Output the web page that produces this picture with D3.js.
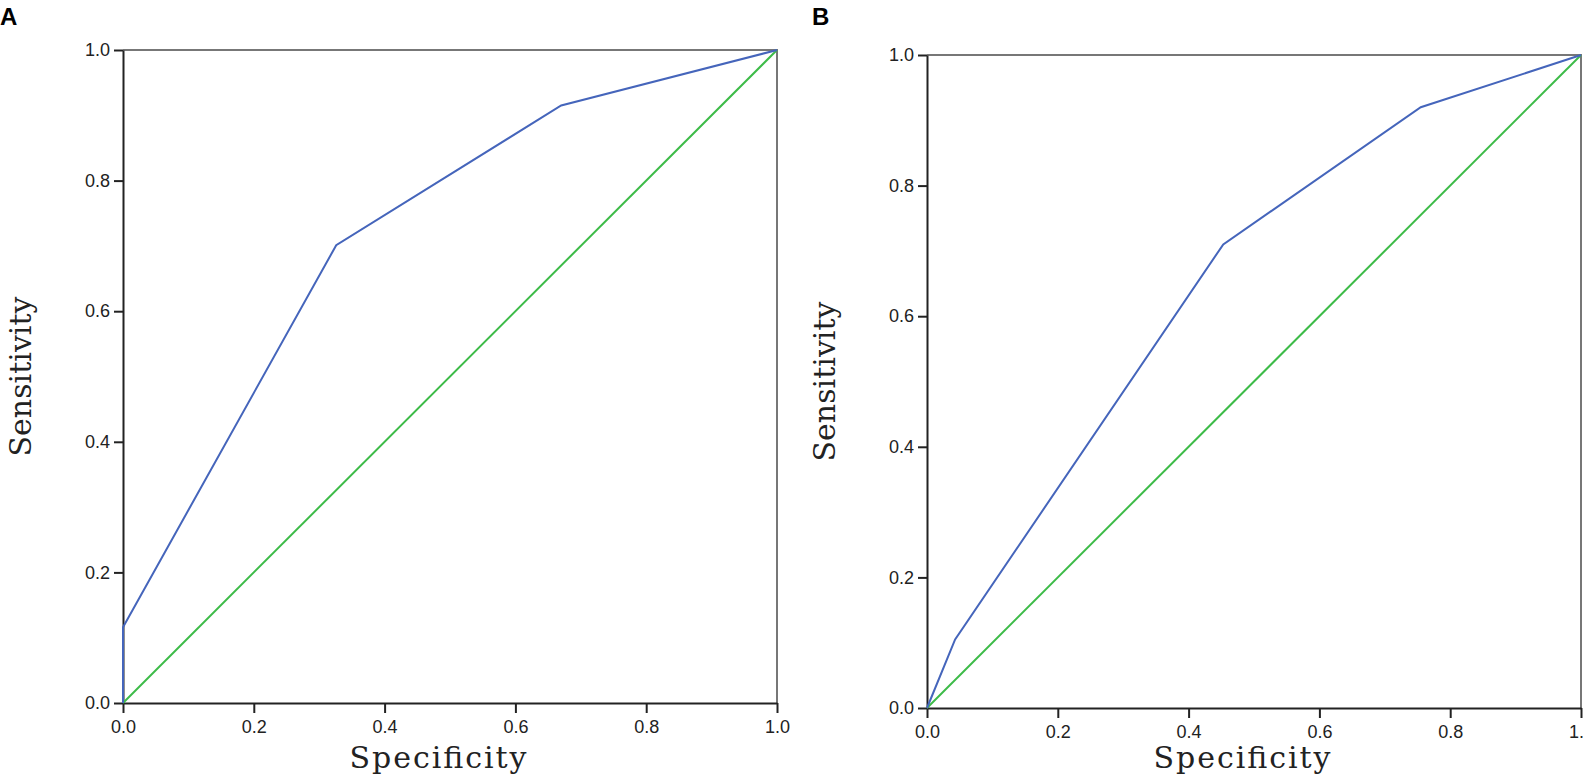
<!DOCTYPE html>
<html lang='en'>
<head>
	<meta charset='UTF-8'>
	<title>ROC</title>
	<style>
		body { margin: 0; background: #fff; }
	</style>
</head>
<body>

<svg></svg>

<script src='https://d3js.org/d3.v7.min.js'></script>
<script>
// ROC curves, two panels
const ticks = [0, 0.2, 0.4, 0.6, 0.8, 1.0]

const specA = [0, 0, 0.326, 0.67, 1]
const sensA = [0, 0.116, 0.701, 0.915, 1]

const specB = [0, 0.043, 0.453, 0.755, 1]
const sensB = [0, 0.105, 0.71, 0.92, 1]

const refLine = [0, 1]

const panels = [
    { label: 'A', spec: specA, sens: sensA, left: 123, top: 50, lx: 0, ly: 25 },
    { label: 'B', spec: specB, sens: sensB, left: 927, top: 55, lx: 812, ly: 25 }
]

const width = 1584
const height = 781
const size = 654

const svg = d3.select('svg')
    .attr('width', width)
    .attr('height', height)

panels.forEach(p => {
    const x = d3.scaleLinear().domain([0, 1]).range([p.left, p.left + size])
    const y = d3.scaleLinear().domain([0, 1]).range([p.top + size - 1, p.top])

    // panel letter
    svg.append('text')
        .attr('x', p.lx).attr('y', p.ly)
        .attr('font-family', 'Liberation Sans, Arial, sans-serif')
        .attr('font-weight', 'bold')
        .attr('font-size', 24)
        .text(p.label)

    // top and right frame, gray
    svg.append('path')
        .attr('d', `M${x(0)},${y(1)}H${x(1)}V${y(0)}`)
        .attr('fill', 'none')
        .attr('stroke', '#777')
        .attr('stroke-width', 2)

    const xAxis = svg.append('g')
        .attr('transform', `translate(0,${y(0)})`)
        .call(d3.axisBottom(x).tickValues(ticks).tickFormat(d3.format('.1f')).tickSize(10).tickSizeOuter(0).tickPadding(7))
    const yAxis = svg.append('g')
        .attr('transform', `translate(${x(0)},0)`)
        .call(d3.axisLeft(y).tickValues(ticks).tickFormat(d3.format('.1f')).tickSize(9).tickSizeOuter(0).tickPadding(4))

    ;[xAxis, yAxis].forEach(g => {
        g.select('.domain').attr('stroke', '#222').attr('stroke-width', 2)
        g.selectAll('.tick line').attr('stroke', '#222').attr('stroke-width', 2)
        g.selectAll('.tick text')
            .attr('font-family', 'Liberation Sans, Arial, sans-serif')
            .attr('font-size', 18)
            .attr('fill', '#222')
    })

    // diagonal reference
    svg.append('line')
        .attr('x1', x(refLine[0])).attr('y1', y(refLine[0]))
        .attr('x2', x(refLine[1])).attr('y2', y(refLine[1]))
        .attr('stroke', '#3dbb48')
        .attr('stroke-width', 2)

    const line = d3.line()
        .x((d, i) => x(p.spec[i]))
        .y(d => y(d))
    svg.append('path')
        .attr('d', line(p.sens))
        .attr('fill', 'none')
        .attr('stroke', '#4565bb')
        .attr('stroke-width', 2)

    svg.append('text')
        .attr('x', x(0.5) - 12).attr('y', 768)
        .attr('text-anchor', 'middle')
        .attr('font-family', 'DejaVu Serif, serif')
        .attr('font-size', 30)
        .attr('textLength', 177)
        .attr('lengthAdjust', 'spacing')
        .attr('fill', '#222')
        .text('Specificity')

    svg.append('text')
        .attr('transform', `translate(${p.left - 92},${y(0.5)}) rotate(-90)`)
        .attr('text-anchor', 'middle')
        .attr('font-family', 'DejaVu Serif, serif')
        .attr('font-size', 30)
        .attr('textLength', 160)
        .attr('lengthAdjust', 'spacing')
        .attr('fill', '#222')
        .text('Sensitivity')
})
</script>
</body>
</html>
